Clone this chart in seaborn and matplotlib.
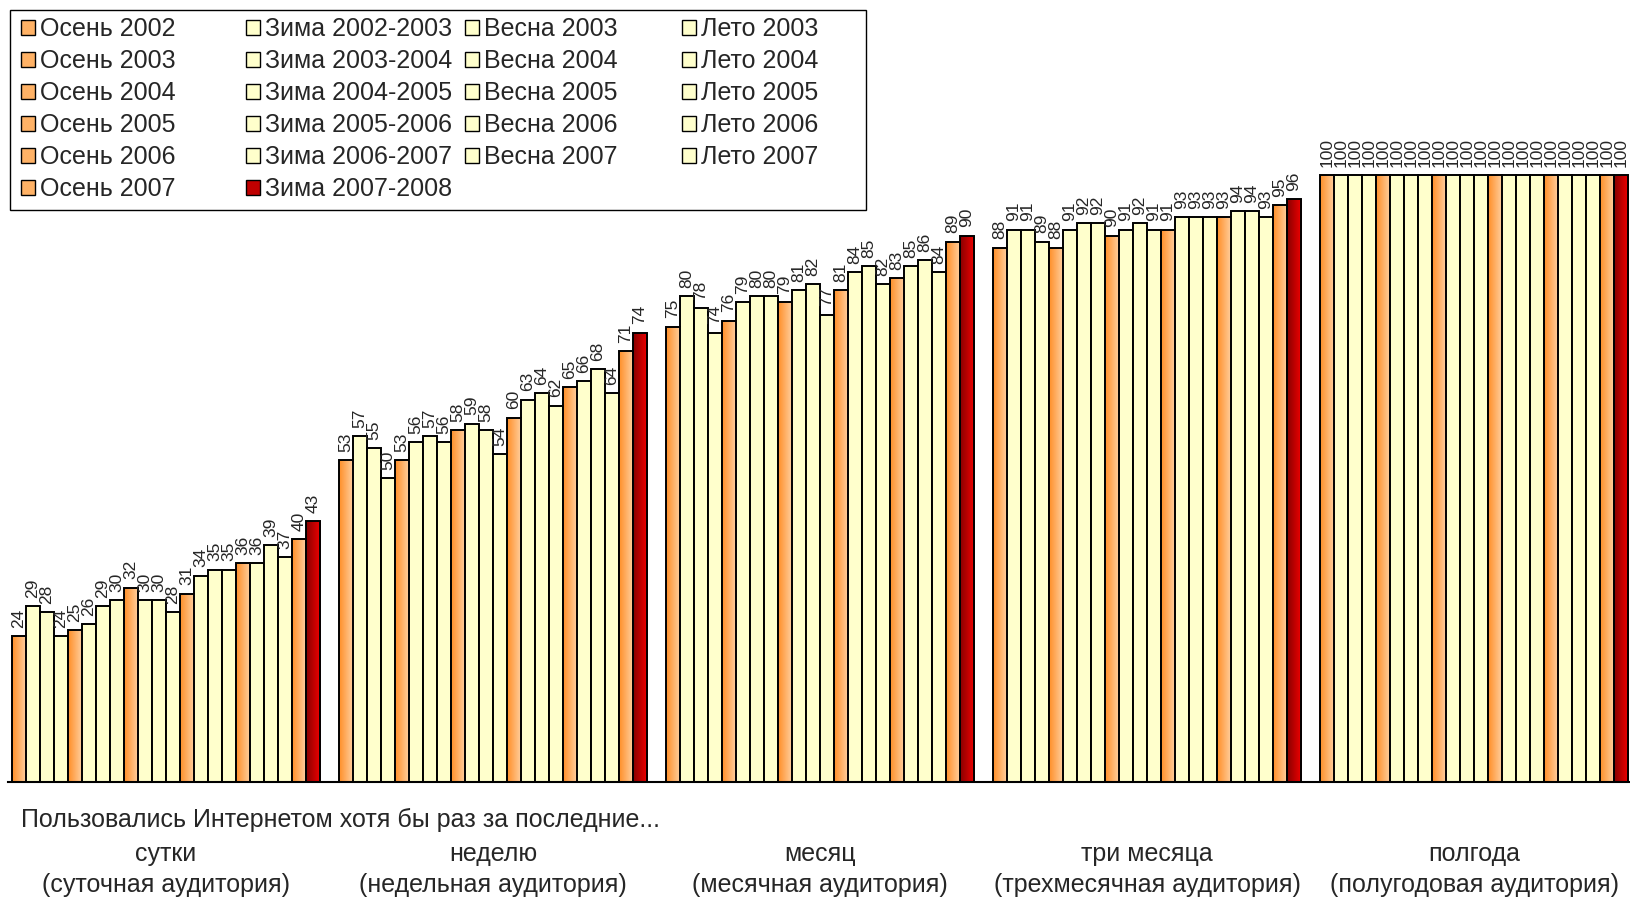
import numpy as np
import pandas as pd
import matplotlib
matplotlib.use("Agg")
import matplotlib.pyplot as plt
import matplotlib.transforms as mtransforms
from matplotlib.patches import Patch, Rectangle
from matplotlib.colors import LinearSegmentedColormap
import seaborn as sns

# Seasons (hue levels), in chronological order
seasons = [
    "Осень 2002", "Зима 2002-2003", "Весна 2003", "Лето 2003",
    "Осень 2003", "Зима 2003-2004", "Весна 2004", "Лето 2004",
    "Осень 2004", "Зима 2004-2005", "Весна 2005", "Лето 2005",
    "Осень 2005", "Зима 2005-2006", "Весна 2006", "Лето 2006",
    "Осень 2006", "Зима 2006-2007", "Весна 2007", "Лето 2007",
    "Осень 2007", "Зима 2007-2008",
]

groups = ["сутки", "неделю", "месяц", "три месяца", "полгода"]
group_notes = ["(суточная аудитория)", "(недельная аудитория)", "(месячная аудитория)",
               "(трехмесячная аудитория)", "(полугодовая аудитория)"]

day = [24, 29, 28, 24, 25, 26, 29, 30, 32, 30, 30, 28, 31, 34, 35, 35, 36, 36, 39, 37, 40, 43]
week = [53, 57, 55, 50, 53, 56, 57, 56, 58, 59, 58, 54, 60, 63, 64, 62, 65, 66, 68, 64, 71, 74]
month = [75, 80, 78, 74, 76, 79, 80, 80, 79, 81, 82, 77, 81, 84, 85, 82, 83, 85, 86, 84, 89, 90]
three_months = [88, 91, 91, 89, 88, 91, 92, 92, 90, 91, 92, 91, 91, 93, 93, 93, 93, 94, 94, 93, 95, 96]
half_year = [100] * 22

values = [day, week, month, three_months, half_year]

rows = []
for g, vals in zip(groups, values):
    for s, v in zip(seasons, vals):
        rows.append({"group": g, "season": s, "value": v})
df = pd.DataFrame(rows)

YELLOW = "#FFFFCC"
ORANGE = "#FFB266"
RED = "#C00000"
orange_cmap = LinearSegmentedColormap.from_list("orange", ["#FF8F28", "#FFD2A4"])
red_cmap = LinearSegmentedColormap.from_list("red", ["#880000", "#F20000"])


def season_color(s):
    if s.startswith("Осень"):
        return ORANGE
    if s == "Зима 2007-2008":
        return RED
    return YELLOW


palette = {s: season_color(s) for s in seasons}

sns.set_style("white")
plt.rcParams["font.family"] = ["Liberation Sans", "DejaVu Sans"]

W, H = 1630, 901
fig = plt.figure(figsize=(W / 100, H / 100), dpi=100)
ax = fig.add_axes([8 / W, 1 - 782 / H, 1 - 8 / W, 782 / H])

sns.barplot(data=df, x="group", y="value", hue="season", order=groups, hue_order=seasons,
            palette=palette, width=0.942, errorbar=None, edgecolor="black", linewidth=1.4,
            saturation=1, legend=False, ax=ax)

# gradient fill for autumn bars and the last winter
grad = np.linspace(0, 1, 64).reshape(1, -1)
for container, s in zip(ax.containers, seasons):
    cmap = None
    if s.startswith("Осень"):
        cmap = orange_cmap
    elif s == "Зима 2007-2008":
        cmap = red_cmap
    if cmap is not None:
        for bar in container:
            x0, y0 = bar.get_x(), bar.get_y()
            w, h = bar.get_width(), bar.get_height()
            bar.set_facecolor("none")
            bar.set_zorder(3)
            im = ax.imshow(grad, cmap=cmap, extent=[x0, x0 + w, y0, y0 + h],
                           aspect="auto", interpolation="bilinear", zorder=2)
            im.set_clip_path(bar)
    ax.bar_label(container, fmt="%d", rotation=90, padding=6, fontsize=12.5)

ax.set_xlim(-0.483, 4.477)
ax.set_ylim(0, 128.8)
ax.set_aspect("auto")
for side in ["left", "top", "right"]:
    ax.spines[side].set_visible(False)
ax.spines["bottom"].set_color("black")
ax.spines["bottom"].set_linewidth(1.5)
ax.tick_params(bottom=False, labelbottom=False, left=False, labelleft=False)
ax.set_xlabel("")
ax.set_ylabel("")

# bottom captions
fig.text(21 / W, 1 - 820 / H, "Пользовались Интернетом хотя бы раз за последние...",
         fontsize=18, ha="left", va="center")
trans = mtransforms.blended_transform_factory(ax.transData, fig.transFigure)
for i, (g, note) in enumerate(zip(groups, group_notes)):
    ax.text(i, 1 - 854 / H, g, transform=trans, fontsize=18, ha="center", va="center")
    ax.text(i, 1 - 885 / H, note, transform=trans, fontsize=18, ha="center", va="center")

# legend: four columns laid out like the original
col_x = [21, 246, 465, 682]
for c in range(4):
    idx = list(range(c, len(seasons), 4))
    handles = [Patch(facecolor=season_color(seasons[k]), edgecolor="black", linewidth=1)
               for k in idx]
    labels = [seasons[k] for k in idx]
    fig.legend(handles, labels, loc="upper left",
               bbox_to_anchor=(col_x[c] / W, 1 - 17 / H), bbox_transform=fig.transFigure,
               frameon=False, fontsize=18, borderpad=0, borderaxespad=0,
               handlelength=0.55, handleheight=0.55, handletextpad=0.2,
               labelspacing=0.32)
fig.add_artist(Rectangle((10 / W, 1 - 210 / H), 856 / W, 200 / H, transform=fig.transFigure,
                         fill=False, edgecolor="black", linewidth=1))

fig.savefig("out.png", dpi=100)
